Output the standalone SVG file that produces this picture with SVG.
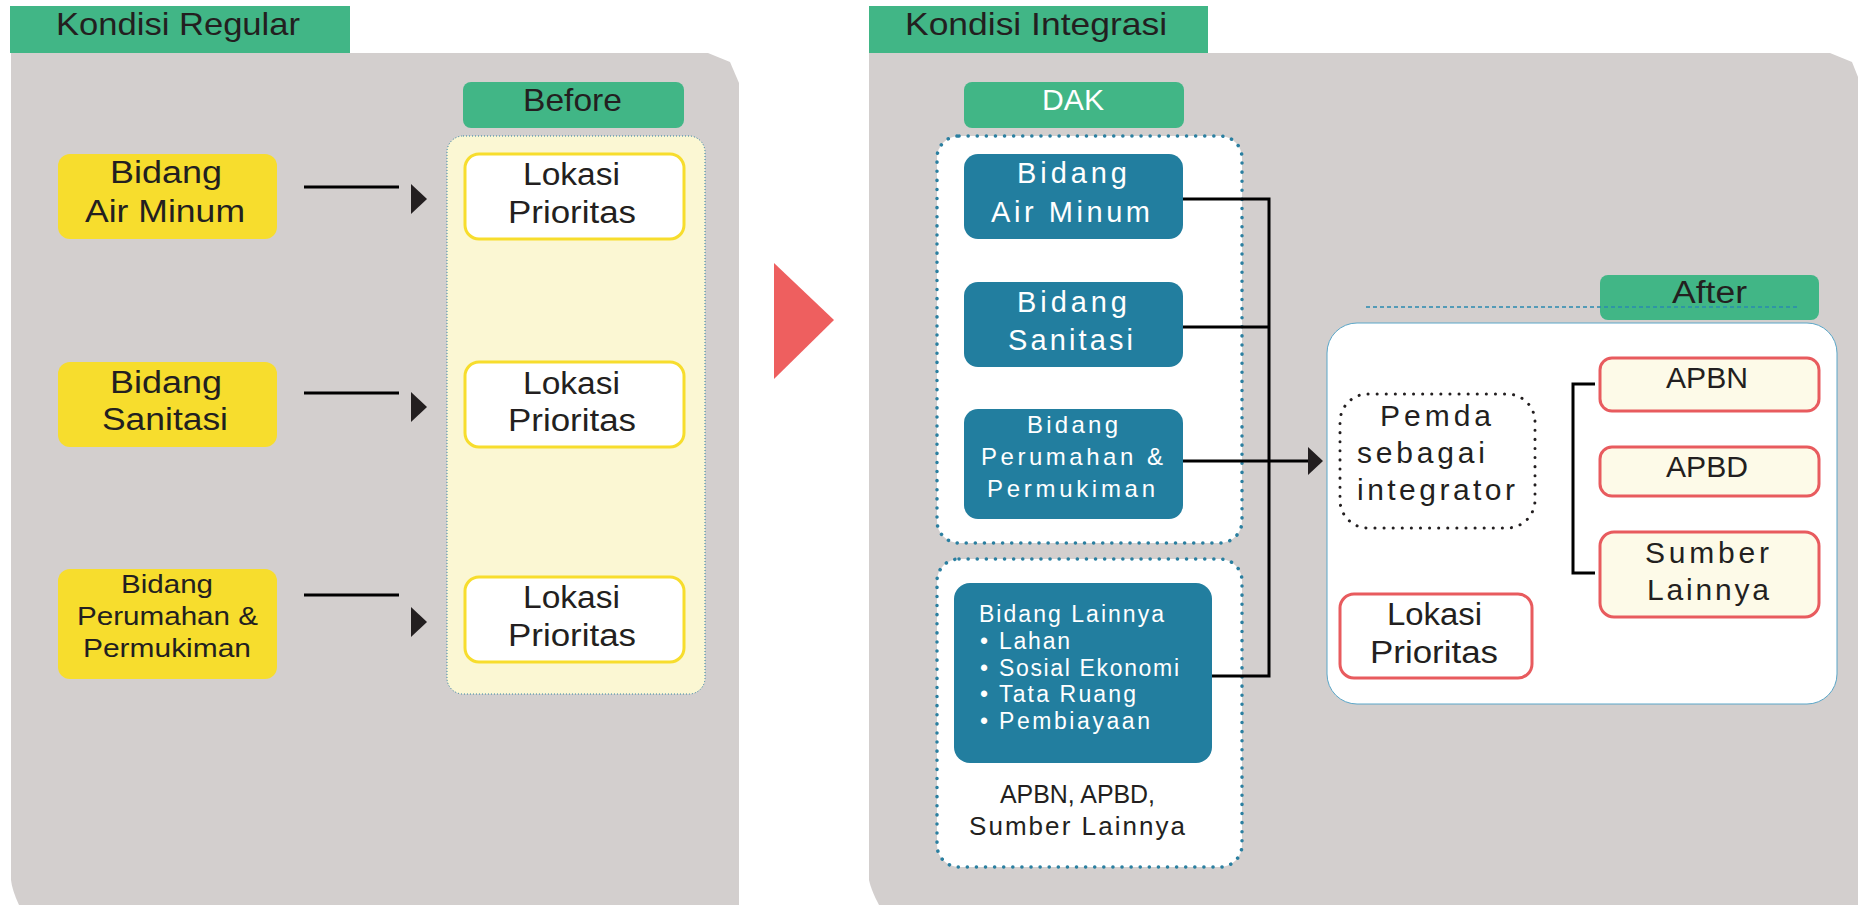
<svg xmlns="http://www.w3.org/2000/svg" width="1858" height="905" viewBox="0 0 1858 905">
<style>
.t{font-family:"Liberation Sans",Arial,sans-serif;fill:#231F20}
.w{font-family:"Liberation Sans",Arial,sans-serif;fill:#FFFFFF}
.hdr{fill:#41B686}
.gray{fill:#D3CFCE}
.ybox{fill:#F7DD2D}
.lok{fill:#FFFFFF;stroke:#F7DD2D;stroke-width:3}
.bbox{fill:#227E9F}
.rbox{fill:#FDFAE8;stroke:#E85B5E;stroke-width:3}
.dot{fill:#FFFFFF;stroke:#2A7FA0;stroke-width:3.5;stroke-dasharray:0.1 9;stroke-linecap:round}
.conn{fill:none;stroke:#000000;stroke-width:3}
</style>
<rect width="1858" height="905" fill="#FFFFFF"/>

<g id="panel-regular">
<path class="gray" d="M11 53 H708 L730 62 L739 83 V905 H19 Q12 890 11 880 Z"/>
<rect class="hdr" x="10" y="6" width="340" height="47"/>
<text class="t" x="56" y="35" font-size="32" textLength="244" lengthAdjust="spacingAndGlyphs">Kondisi Regular</text>
</g>

<g id="panel-integrasi">
<path class="gray" d="M869 53 H1830 L1852 62 L1858 77 V905 H879 Q871 890 869 880 Z"/>
<rect class="hdr" x="869" y="6" width="339" height="47"/>
<text class="t" x="905" y="35" font-size="32" textLength="262" lengthAdjust="spacingAndGlyphs">Kondisi Integrasi</text>
</g>

<g id="transition-arrow">
<polygon points="774,263 834,320 774,379" fill="#EE5F5F"/>
</g>

<g id="before-label">
<rect class="hdr" x="463" y="82" width="221" height="46" rx="8"/>
<text class="t" x="523" y="111" font-size="32" textLength="99" lengthAdjust="spacingAndGlyphs">Before</text>
</g>

<g id="before-column">
<rect x="447" y="136" width="258" height="558" rx="16" fill="#FBF7D3" stroke="#2A7FA0" stroke-width="1" stroke-dasharray="1 2"/>
</g>

<g id="reg-air-minum">
<rect class="ybox" x="58" y="154" width="219" height="85" rx="12"/>
<text class="t" x="110" y="183" font-size="31" textLength="112" lengthAdjust="spacingAndGlyphs">Bidang</text>
<text class="t" x="85" y="222" font-size="31" textLength="160" lengthAdjust="spacingAndGlyphs">Air Minum</text>
</g>
<g id="reg-sanitasi">
<rect class="ybox" x="58" y="362" width="219" height="85" rx="12"/>
<text class="t" x="110" y="393" font-size="31" textLength="112" lengthAdjust="spacingAndGlyphs">Bidang</text>
<text class="t" x="102" y="430" font-size="31" textLength="126" lengthAdjust="spacingAndGlyphs">Sanitasi</text>
</g>
<g id="reg-perumahan">
<rect class="ybox" x="58" y="569" width="219" height="110" rx="12"/>
<text class="t" x="121" y="593" font-size="26" textLength="92" lengthAdjust="spacingAndGlyphs">Bidang</text>
<text class="t" x="77" y="625" font-size="26" textLength="181" lengthAdjust="spacingAndGlyphs">Perumahan &amp;</text>
<text class="t" x="83" y="657" font-size="26" textLength="168" lengthAdjust="spacingAndGlyphs">Permukiman</text>
</g>

<g id="reg-lokasi-1">
<rect class="lok" x="465" y="154" width="219" height="85" rx="14"/>
<text class="t" x="523" y="185" font-size="31" textLength="97" lengthAdjust="spacingAndGlyphs">Lokasi</text>
<text class="t" x="508" y="223" font-size="31" textLength="128" lengthAdjust="spacingAndGlyphs">Prioritas</text>
</g>
<g id="reg-lokasi-2">
<rect class="lok" x="465" y="362" width="219" height="85" rx="14"/>
<text class="t" x="523" y="394" font-size="31" textLength="97" lengthAdjust="spacingAndGlyphs">Lokasi</text>
<text class="t" x="508" y="431" font-size="31" textLength="128" lengthAdjust="spacingAndGlyphs">Prioritas</text>
</g>
<g id="reg-lokasi-3">
<rect class="lok" x="465" y="577" width="219" height="85" rx="14"/>
<text class="t" x="523" y="608" font-size="31" textLength="97" lengthAdjust="spacingAndGlyphs">Lokasi</text>
<text class="t" x="508" y="646" font-size="31" textLength="128" lengthAdjust="spacingAndGlyphs">Prioritas</text>
</g>

<g id="dak-label">
<rect class="hdr" x="964" y="82" width="220" height="46" rx="8"/>
<text class="w" x="1042" y="110" font-size="30" textLength="62" lengthAdjust="spacingAndGlyphs">DAK</text>
</g>

<g id="dak-container">
<rect class="dot" x="937" y="136" width="305" height="407" rx="22"/>
</g>
<g id="other-container">
<rect class="dot" x="937" y="559" width="305" height="308" rx="22"/>
</g>

<g id="int-air-minum">
<rect class="bbox" x="964" y="154" width="219" height="85" rx="14"/>
<text class="w" x="1017" y="183" font-size="29" textLength="110" lengthAdjust="spacing">Bidang</text>
<text class="w" x="991" y="222" font-size="29" textLength="159" lengthAdjust="spacing">Air Minum</text>
</g>
<g id="int-sanitasi">
<rect class="bbox" x="964" y="282" width="219" height="85" rx="14"/>
<text class="w" x="1017" y="312" font-size="29" textLength="110" lengthAdjust="spacing">Bidang</text>
<text class="w" x="1008" y="350" font-size="29" textLength="125" lengthAdjust="spacing">Sanitasi</text>
</g>
<g id="int-perumahan">
<rect class="bbox" x="964" y="409" width="219" height="110" rx="14"/>
<text class="w" x="1027" y="433" font-size="24" textLength="91" lengthAdjust="spacing">Bidang</text>
<text class="w" x="981" y="465" font-size="24" textLength="182" lengthAdjust="spacing">Perumahan &amp;</text>
<text class="w" x="987" y="497" font-size="24" textLength="168" lengthAdjust="spacing">Permukiman</text>
</g>
<g id="int-lainnya">
<rect class="bbox" x="954" y="583" width="258" height="180" rx="16"/>
<text class="w" x="979" y="622" font-size="23" textLength="185" lengthAdjust="spacing">Bidang Lainnya</text>
<text class="w" x="980" y="649" font-size="23">•</text>
<text class="w" x="999" y="649" font-size="23" textLength="71" lengthAdjust="spacing">Lahan</text>
<text class="w" x="980" y="676" font-size="23">•</text>
<text class="w" x="999" y="676" font-size="23" textLength="180" lengthAdjust="spacing">Sosial Ekonomi</text>
<text class="w" x="980" y="702" font-size="23">•</text>
<text class="w" x="999" y="702" font-size="23" textLength="137" lengthAdjust="spacing">Tata Ruang</text>
<text class="w" x="980" y="729" font-size="23">•</text>
<text class="w" x="999" y="729" font-size="23" textLength="151" lengthAdjust="spacing">Pembiayaan</text>
</g>
<g id="sumber-note">
<text class="t" x="1000" y="803" font-size="25" textLength="155" lengthAdjust="spacingAndGlyphs">APBN, APBD,</text>
<text class="t" x="969" y="835" font-size="26" textLength="216" lengthAdjust="spacing">Sumber Lainnya</text>
</g>

<g id="after-container">
<rect x="1327" y="323" width="510" height="381" rx="30" fill="#FFFFFF" stroke="#5AA6C8" stroke-width="1"/>
</g>
<g id="after-label">
<rect class="hdr" x="1600" y="275" width="219" height="45" rx="8"/>
<text class="t" x="1672" y="303" font-size="31" textLength="75" lengthAdjust="spacingAndGlyphs">After</text>
<line x1="1366" y1="307" x2="1797" y2="307" stroke="#2A8AB0" stroke-width="1.5" stroke-dasharray="4 3"/>
</g>

<g id="pemda">
<rect x="1340" y="394" width="195" height="134" rx="28" fill="none" stroke="#231F20" stroke-width="3" stroke-dasharray="0.1 9" stroke-linecap="round"/>
<text class="t" x="1380" y="426" font-size="30" textLength="111" lengthAdjust="spacing">Pemda</text>
<text class="t" x="1357" y="463" font-size="30" textLength="128" lengthAdjust="spacing">sebagai</text>
<text class="t" x="1357" y="500" font-size="30" textLength="158" lengthAdjust="spacing">integrator</text>
</g>
<g id="after-lokasi">
<rect x="1340" y="594" width="192" height="84" rx="14" fill="#FFFFFF" stroke="#E85B5E" stroke-width="3"/>
<text class="t" x="1387" y="625" font-size="31" textLength="95" lengthAdjust="spacingAndGlyphs">Lokasi</text>
<text class="t" x="1370" y="663" font-size="31" textLength="128" lengthAdjust="spacingAndGlyphs">Prioritas</text>
</g>
<g id="apbn">
<rect class="rbox" x="1600" y="358" width="219" height="53" rx="12"/>
<text class="t" x="1666" y="388" font-size="30" textLength="82" lengthAdjust="spacingAndGlyphs">APBN</text>
</g>
<g id="apbd">
<rect class="rbox" x="1600" y="447" width="219" height="49" rx="12"/>
<text class="t" x="1666" y="477" font-size="30" textLength="82" lengthAdjust="spacingAndGlyphs">APBD</text>
</g>
<g id="sumber-lainnya">
<rect class="rbox" x="1600" y="532" width="219" height="85" rx="14"/>
<text class="t" x="1645" y="563" font-size="30" textLength="124" lengthAdjust="spacing">Sumber</text>
<text class="t" x="1647" y="600" font-size="30" textLength="122" lengthAdjust="spacing">Lainnya</text>
</g>

<g id="connectors">
<line class="conn" x1="304" y1="187" x2="399" y2="187"/>
<polygon points="411,184 427,199 411,214" fill="#231F20"/>
<line class="conn" x1="304" y1="393" x2="399" y2="393"/>
<polygon points="411,392 427,407 411,422" fill="#231F20"/>
<line class="conn" x1="304" y1="595" x2="399" y2="595"/>
<polygon points="411,607 427,622 411,637" fill="#231F20"/>
<polyline class="conn" points="1183,199 1269,199 1269,676 1212,676"/>
<line class="conn" x1="1183" y1="327" x2="1269" y2="327"/>
<line class="conn" x1="1183" y1="461" x2="1310" y2="461"/>
<polygon points="1308,447 1323,461 1308,475" fill="#231F20"/>
<polyline class="conn" points="1595,384 1573,384 1573,573 1595,573"/>
</g>
</svg>
